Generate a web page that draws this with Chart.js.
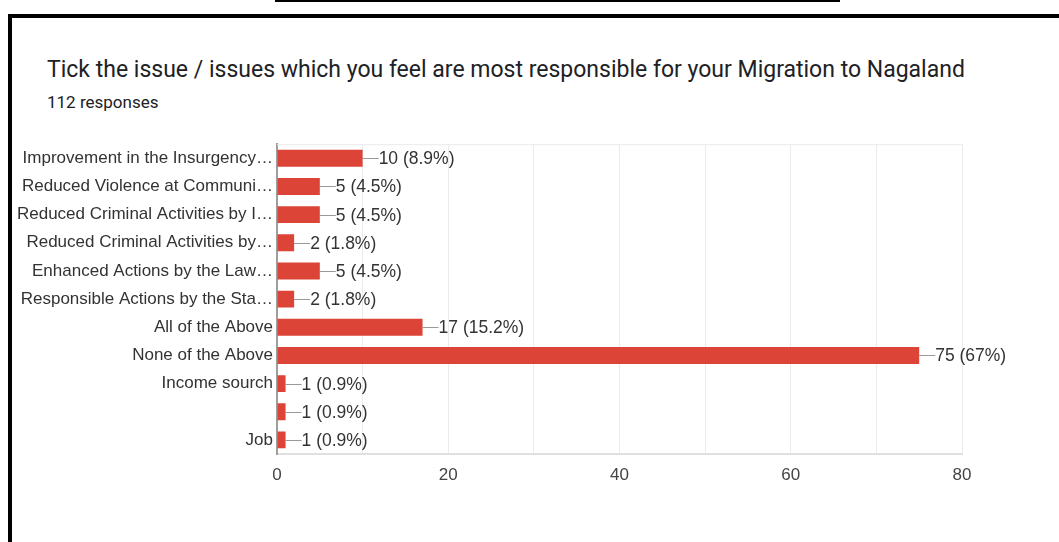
<!DOCTYPE html>
<html>
<head>
<meta charset="utf-8">
<script src="https://cdn.jsdelivr.net/npm/chart.js@4.4.1/dist/chart.umd.min.js"></script>
<style>
  html, body { margin: 0; padding: 0; background: #fff; width: 1059px; height: 542px; overflow: hidden; }
  .topline { position: absolute; left: 275px; top: 0; width: 565px; height: 2px; background: #000; }
  .frame { position: absolute; left: 8px; top: 14px; width: 1100px; height: 600px;
           border-left: 4px solid #000; border-top: 4px solid #000; }
  .title { position: absolute; left: 47px; top: 56px; font-family: Roboto, "Noto Sans", sans-serif;
           font-size: 23px; color: #202124; white-space: nowrap; }
  .sub { position: absolute; left: 47px; top: 92px; font-family: Roboto, "Noto Sans", sans-serif;
         font-size: 17px; color: #202124; }
  #chart { position: absolute; left: 0; top: 130px; }
</style>
</head>
<body>
<div class="topline"></div>
<div class="frame"></div>
<div class="title">Tick the issue / issues which you feel are most responsible for your Migration to Nagaland</div>
<div class="sub">112 responses</div>
<canvas id="chart" width="1059" height="412"></canvas>
<script>
const responses = 112;

const categories = [
  "Improvement in the Insurgency…",
  "Reduced Violence at Communi…",
  "Reduced Criminal Activities by I…",
  "Reduced Criminal Activities by…",
  "Enhanced Actions by the Law…",
  "Responsible Actions by the Sta…",
  "All of the Above",
  "None of the Above",
  "Income sourch",
  "",
  "Job",
];

const counts = [10, 5, 5, 2, 5, 2, 17, 75, 1, 1, 1];

const xTicks = [0, 20, 40, 60, 80];

const labelFont = '17.5px "Liberation Sans", Arial, sans-serif';

function pct(v) {
  let p = (v / responses * 100).toFixed(1);
  if (p.endsWith(".0")) p = p.slice(0, -2);
  return v + " (" + p + "%)";
}

// count + percentage after each bar, with a short leader line
const valueLabels = {
  id: "valueLabels",
  afterDatasetsDraw(chart) {
    const { ctx } = chart;
    const meta = chart.getDatasetMeta(0);
    ctx.save();
    ctx.font = labelFont;
    ctx.textBaseline = "middle";
    ctx.textAlign = "left";
    meta.data.forEach((bar, i) => {
      const x = bar.x, y = Math.round(bar.y) + 0.5;
      ctx.strokeStyle = "#999";
      ctx.lineWidth = 1;
      ctx.beginPath();
      ctx.moveTo(x, y);
      ctx.lineTo(x + 16, y);
      ctx.stroke();
      ctx.fillStyle = "#333";
      ctx.fillText(pct(counts[i]), x + 16, y + 1);
    });
    ctx.restore();
  },
};

// light line along the top of the plot
const topBorder = {
  id: "topBorder",
  beforeDatasetsDraw(chart) {
    const { ctx, chartArea } = chart;
    ctx.save();
    ctx.strokeStyle = "#ebebeb";
    ctx.lineWidth = 1;
    ctx.beginPath();
    ctx.moveTo(chartArea.left, chartArea.top + 0.5);
    ctx.lineTo(chartArea.right, chartArea.top + 0.5);
    ctx.stroke();
    ctx.restore();
  },
};

new Chart(document.getElementById("chart"), {
  type: "bar",
  data: {
    labels: categories,
    datasets: [
      {
        data: counts,
        backgroundColor: "#db4437",
        borderWidth: 0,
        barPercentage: 0.6,
        categoryPercentage: 1,
      },
    ],
  },
  options: {
    indexAxis: "y",
    responsive: false,
    animation: false,
    layout: { padding: { top: 14, right: 97, left: 0, bottom: 0 } },
    plugins: {
      legend: { display: false },
      tooltip: { enabled: false },
    },
    scales: {
      x: {
        min: 0,
        max: 80,
        afterFit: (scale) => { scale.height = 88; },
        ticks: {
          stepSize: 10,
          padding: 11,
          color: "#444",
          font: { family: '"Liberation Sans", Arial, sans-serif', size: 17 },
          callback: (v) => (xTicks.includes(v) ? v : ""),
        },
        grid: { color: "#ebebeb", drawTicks: false },
        border: { color: "#e0e0e0", width: 2 },
      },
      y: {
        afterFit: (scale) => { scale.width = 277; },
        ticks: {
          padding: 4,
          color: "#333",
          autoSkip: false,
          font: { family: '"Liberation Sans", Arial, sans-serif', size: 17 },
        },
        grid: { display: false, drawTicks: false },
        border: { color: "#9e9e9e", width: 2 },
      },
    },
  },
  plugins: [valueLabels, topBorder],
});
</script>
</body>
</html>
